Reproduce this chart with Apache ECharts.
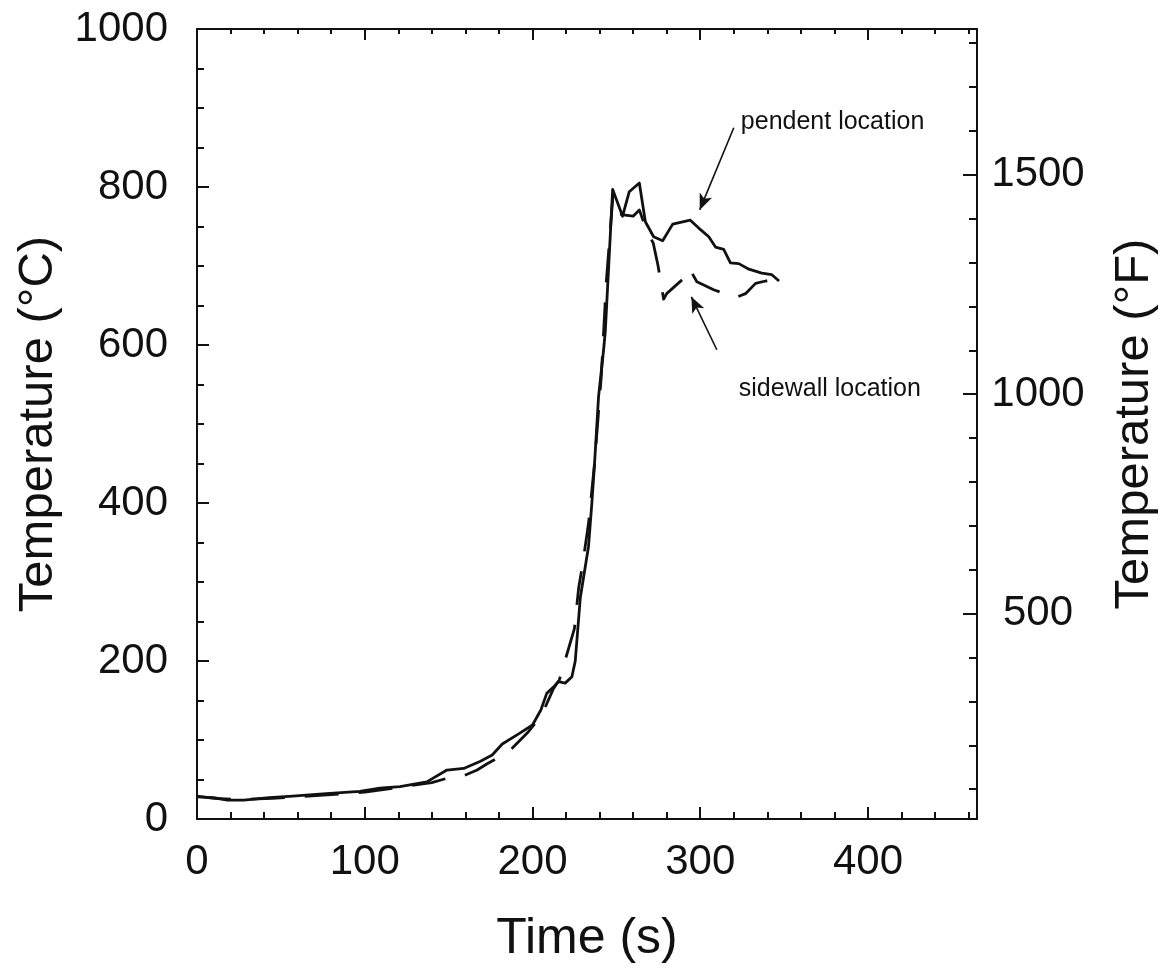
<!DOCTYPE html>
<html><head><meta charset="utf-8">
<script src="https://cdn.jsdelivr.net/npm/echarts@6/dist/echarts.min.js"></script>
<style>html,body{margin:0;padding:0;background:#fff}#c{width:1175px;height:973px}</style>
</head><body><div id="c"></div>
<script>
// ---- data ----
const pendentTime = [0,10,18,28,43,57,77,97,109,121,137,149,159,169,176,182,192,200,205,208.5,212.5,215.5,219.5,223.5,225.5,228.5,233.4,235.4,237,239.4,242.4,243.4,247.8,253.7,257.7,263.7,267.3,272.2,277.6,283.6,294.1,299.1,305.1,309.1,314,318,323,329,336.7,342.7,347];
const pendentTemp = [28,27,24,24,27,29,32,35,39,41,47,62,64,73,81,95,108,119,138,159,167,174,172,180,200,280,345,400,450,535,594,617,797,763,794,805,756,737,732,753,758,748,737,724,721,704,703,696,691,689,681];
const sidewallTime = [0,10,20,30,45,60,80,100,120,140,149,157,167,173,185.7,197.6,205.6,212.5,216,221,225,227.5,230,233.4,237,241,244,248,253,260,263.7,268,272,274.8,278.2,280,290,293.5,298,308,321,327,333,339,345,348];
const sidewallTemp = [29,26,25,25,26,28,31,34,40,46,51.5,53,62,70,85,110.5,132,165,176,212,241,292,324,374,450,560,680,790,765,763,771,745,729,701,658,665,684,697,680,670,660,665,678,681,683,680];

const timeMajorTicks = [0,100,200,300,400];
const timeMinorTicks = [20,40,60,80,120,140,160,180,220,240,260,280,320,340,360,380,420,440,460];
const celsiusMajorTicks = [0,200,400,600,800,1000];
const celsiusMinorTicks = [50,100,150,250,300,350,450,500,550,650,700,750,850,900,950];
const fahrenheitMajorTicks = [500,1000,1500];
const fahrenheitMinorTicks = [100,200,300,400,600,700,800,900,1100,1200,1300,1400,1600,1700,1800];

const timeMax = 465;
const celsiusMin = 0, celsiusMax = 1000;
const cToF = c => c * 9 / 5 + 32;

// ---- chart ----
const FONT = 'Liberation Sans';
const INK = '#111';
const chart = echarts.init(document.getElementById('c'), null, {renderer: 'canvas'});
const gridRect = {left: 197, right: 198, top: 29, bottom: 154};

function axisBase(gridIndex, position, min, max, ticks, len, showLine) {
  return {
    type: 'value', gridIndex, position, min, max,
    axisLine: {show: showLine, onZero: false, lineStyle: {color: INK, width: 2}},
    axisTick: {show: true, inside: true, length: len, customValues: ticks, lineStyle: {color: INK, width: 2}},
    axisLabel: {show: false},
    splitLine: {show: false},
    minorTick: {show: false}
  };
}

const labelStyle = {fontFamily: FONT, fontSize: 42, color: INK, formatter: v => String(v)};

const xBottom = axisBase(0, 'bottom', 0, timeMax, timeMajorTicks, 12, true);
xBottom.axisLabel = Object.assign({show: true, customValues: timeMajorTicks, margin: 22}, labelStyle);
xBottom.name = 'Time (s)';
xBottom.nameLocation = 'middle';
xBottom.nameGap = 95;
xBottom.nameTextStyle = {fontFamily: FONT, fontSize: 50, color: INK};
const xTop = axisBase(0, 'top', 0, timeMax, timeMajorTicks, 11, true);
const xBottomMinor = axisBase(1, 'bottom', 0, timeMax, timeMinorTicks, 7, false);
const xTopMinor = axisBase(1, 'top', 0, timeMax, timeMinorTicks, 5, false);

const yLeft = axisBase(0, 'left', celsiusMin, celsiusMax, celsiusMajorTicks, 12, true);
yLeft.axisLabel = Object.assign({show: true, customValues: celsiusMajorTicks, margin: 29}, labelStyle);
yLeft.name = 'Temperature (°C)';
yLeft.nameLocation = 'middle';
yLeft.nameGap = 134;
yLeft.nameTextStyle = {fontFamily: FONT, fontSize: 49, color: INK};
const yRight = axisBase(0, 'right', cToF(celsiusMin), cToF(celsiusMax), fahrenheitMajorTicks, 14, true);
yRight.axisLabel = Object.assign({show: true, customValues: fahrenheitMajorTicks, margin: 61, align: 'center'}, labelStyle);
yRight.name = 'Temperature (°F)';
yRight.nameLocation = 'middle';
yRight.nameGap = 133;
yRight.nameTextStyle = {fontFamily: FONT, fontSize: 49, color: INK};
const yLeftMinor = axisBase(1, 'left', celsiusMin, celsiusMax, celsiusMinorTicks, 7, false);
const yRightMinor = axisBase(1, 'right', cToF(celsiusMin), cToF(celsiusMax), fahrenheitMinorTicks, 8, false);

const zip = (a, b) => a.map((v, i) => [v, b[i]]);

const arrowLine = {color: INK, width: 1.6, type: 'solid'};

chart.setOption({
  animation: false,
  backgroundColor: '#fff',
  grid: [Object.assign({}, gridRect), Object.assign({}, gridRect)],
  xAxis: [xBottom, xTop, xBottomMinor, xTopMinor],
  yAxis: [yLeft, yRight, yLeftMinor, yRightMinor],
  series: [
    {
      name: 'pendent location', type: 'line', xAxisIndex: 0, yAxisIndex: 0,
      data: zip(pendentTime, pendentTemp), showSymbol: false,
      lineStyle: {color: INK, width: 2.8, type: 'solid', join: 'round'},
      markLine: {
        silent: true, symbol: ['none', 'arrow'], symbolSize: [10, 16],
        lineStyle: arrowLine, label: {show: false},
        data: [[{coord: [320, 875]}, {coord: [299.7, 771]}]]
      }
    },
    {
      name: 'sidewall location', type: 'line', xAxisIndex: 0, yAxisIndex: 0,
      data: zip(sidewallTime, sidewallTemp), showSymbol: false,
      lineStyle: {color: INK, width: 2.8, type: [34, 20], join: 'round'},
      markLine: {
        silent: true, symbol: ['none', 'arrow'], symbolSize: [10, 16],
        lineStyle: arrowLine, label: {show: false},
        data: [[{coord: [309.9, 594]}, {coord: [294.7, 661]}]]
      }
    }
  ]
});

const p1 = chart.convertToPixel({xAxisIndex: 0, yAxisIndex: 0}, [324.2, 882]);
const p2 = chart.convertToPixel({xAxisIndex: 0, yAxisIndex: 0}, [323, 544]);
chart.setOption({
  graphic: [
    {type: 'text', x: p1[0], y: p1[1], style: {text: 'pendent location', font: '25px "Liberation Sans"', fill: INK, textVerticalAlign: 'middle'}},
    {type: 'text', x: p2[0], y: p2[1], style: {text: 'sidewall location', font: '25px "Liberation Sans"', fill: INK, textVerticalAlign: 'middle'}}
  ]
});
</script>
</body></html>
